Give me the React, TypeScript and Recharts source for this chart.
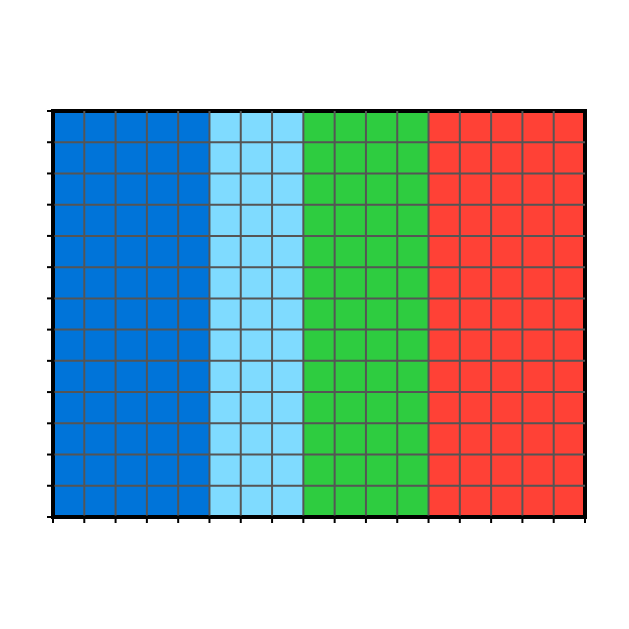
import { ComposedChart, XAxis, YAxis, ReferenceArea, ReferenceLine, Line } from 'recharts';

// waffle layout: number of columns per group, all rows filled
const groups = ['A', 'B', 'C', 'D'];
const groupColumns = [5, 3, 4, 5];
const groupColors = ['#0074D9', '#7FDBFF', '#2ECC40', '#FF4136'];
const rowCount = 13;

const totalColumns = groupColumns.reduce((a, b) => a + b, 0);
const xTicks = Array.from({ length: totalColumns + 1 }, (_, i) => i);
const yTicks = Array.from({ length: rowCount + 1 }, (_, i) => i);

const starts = groupColumns.map((_, i) => groupColumns.slice(0, i).reduce((a, b) => a + b, 0));
const data = xTicks.map((x) => ({ x, y: rowCount }));

const noLabel = () => <g />;

export default function App() {
  return (
    <ComposedChart
      width={613}
      height={613}
      data={data}
      margin={{ top: 103, right: 36, bottom: 74, left: 15 }}
    >
      <XAxis
        type="number"
        dataKey="x"
        domain={[0, totalColumns]}
        ticks={xTicks}
        tick={noLabel}
        height={30}
        tickSize={6}
        axisLine={{ stroke: '#000', strokeWidth: 3 }}
        tickLine={{ stroke: '#000', strokeWidth: 2 }}
      />
      <YAxis
        type="number"
        domain={[0, rowCount]}
        ticks={yTicks}
        tick={noLabel}
        width={30}
        tickSize={6}
        axisLine={{ stroke: '#000', strokeWidth: 3 }}
        tickLine={{ stroke: '#000', strokeWidth: 2 }}
      />
      <Line dataKey="y" stroke="none" dot={false} isAnimationActive={false} />
      {groups.map((g, i) => (
        <ReferenceArea
          key={g}
          x1={starts[i]}
          x2={starts[i] + groupColumns[i]}
          y1={0}
          y2={rowCount}
          fill={groupColors[i]}
          fillOpacity={1}
          stroke="none"
        />
      ))}
      {xTicks.slice(1, -1).map((x) => (
        <ReferenceLine key={'x' + x} x={x} stroke="#555" strokeWidth={2} />
      ))}
      {yTicks.slice(1, -1).map((y) => (
        <ReferenceLine key={'y' + y} y={y} stroke="#555" strokeWidth={2} />
      ))}
      <ReferenceArea
        x1={0}
        x2={totalColumns}
        y1={0}
        y2={rowCount}
        fill="none"
        stroke="#000"
        strokeWidth={4}
      />
    </ComposedChart>
  );
}
